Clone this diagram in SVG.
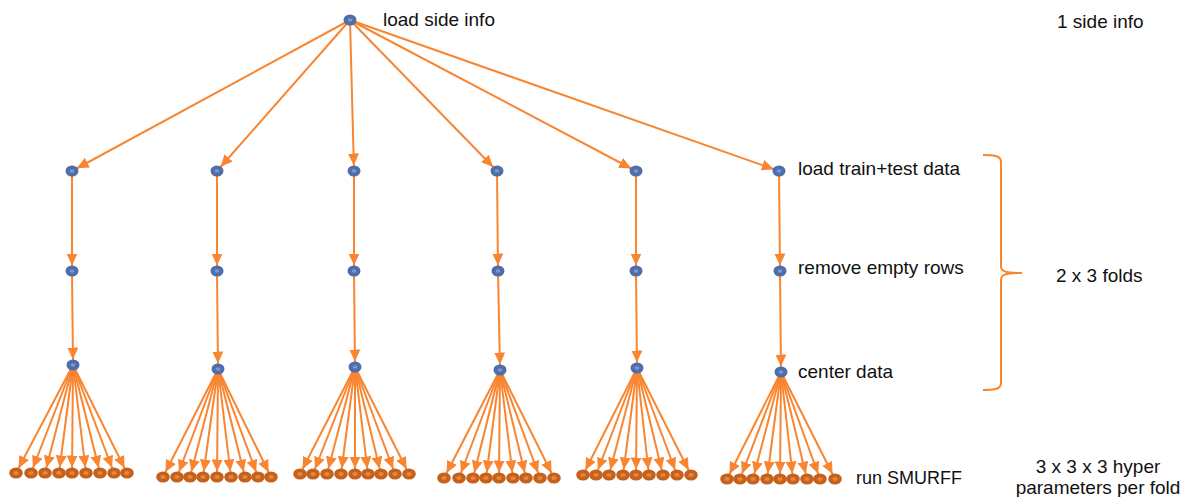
<svg xmlns="http://www.w3.org/2000/svg" xmlns:xlink="http://www.w3.org/1999/xlink" width="1184" height="497" viewBox="0 0 1184 497">
  <style>
    .edge { stroke: #F98531; stroke-width: 2; fill: none; marker-end: url(#arrow); }
    .brace { stroke: #F98531; stroke-width: 2; fill: none; }
    .label { font-family: "Liberation Sans", Arial, sans-serif; font-size: 19px; fill: #111; }
    .label.run { font-size: 18px; }
    .step-outer { fill: #4F6DA8; }
    .step-inner { fill: #7C97CE; }
    .run-outer { fill: #C4621D; }
    .run-inner { fill: #E8853A; }
  </style>
  <defs>
    <marker id="arrow" markerUnits="userSpaceOnUse" markerWidth="20" markerHeight="12" refX="17.5" refY="5.5" orient="auto">
      <path d="M0,0 L12,5.5 L0,11 z" fill="#F98531"/>
    </marker>
    <g id="stepDot">
      <ellipse class="step-outer" cx="0" cy="0" rx="6.5" ry="5.5"/>
      <ellipse class="step-inner" cx="0" cy="0" rx="2.4" ry="1.7"/>
    </g>
    <g id="runDot">
      <ellipse class="run-outer" cx="0" cy="0" rx="6.8" ry="5.6"/>
      <ellipse class="run-inner" cx="0" cy="0" rx="2.7" ry="1.9"/>
    </g>
  </defs>

  <rect width="1184" height="497" fill="#fff"/>

  <!-- connectors -->
  <g id="connectors">
    <!-- side info to each fold -->
    <line class="edge" x1="350" y1="20" x2="72" y2="171"/>
    <line class="edge" x1="350" y1="20" x2="217" y2="171"/>
    <line class="edge" x1="350" y1="20" x2="354" y2="171"/>
    <line class="edge" x1="350" y1="20" x2="497" y2="171"/>
    <line class="edge" x1="350" y1="20" x2="636" y2="171"/>
    <line class="edge" x1="350" y1="20" x2="779" y2="171"/>
    <!-- load -> remove -->
    <line class="edge" x1="72" y1="171" x2="72" y2="271"/>
    <line class="edge" x1="217" y1="171" x2="217" y2="271"/>
    <line class="edge" x1="354" y1="171" x2="354" y2="271"/>
    <line class="edge" x1="497" y1="171" x2="498" y2="271"/>
    <line class="edge" x1="636" y1="171" x2="636" y2="271"/>
    <line class="edge" x1="779" y1="171" x2="780" y2="271"/>
    <!-- remove -> center -->
    <line class="edge" x1="72" y1="271" x2="73" y2="365"/>
    <line class="edge" x1="217" y1="271" x2="218" y2="369"/>
    <line class="edge" x1="354" y1="271" x2="355" y2="367"/>
    <line class="edge" x1="498" y1="271" x2="500" y2="370"/>
    <line class="edge" x1="636" y1="271" x2="637" y2="368"/>
    <line class="edge" x1="780" y1="271" x2="781" y2="372"/>
    <!-- fold 1 runs -->
    <line class="edge" x1="73" y1="365" x2="16" y2="473"/>
    <line class="edge" x1="73" y1="365" x2="31" y2="473"/>
    <line class="edge" x1="73" y1="365" x2="45" y2="473"/>
    <line class="edge" x1="73" y1="365" x2="59" y2="473"/>
    <line class="edge" x1="73" y1="365" x2="72" y2="473"/>
    <line class="edge" x1="73" y1="365" x2="86" y2="473"/>
    <line class="edge" x1="73" y1="365" x2="100" y2="473"/>
    <line class="edge" x1="73" y1="365" x2="114" y2="473"/>
    <line class="edge" x1="73" y1="365" x2="127" y2="473"/>
    <!-- fold 2 runs -->
    <line class="edge" x1="218" y1="369" x2="163" y2="477"/>
    <line class="edge" x1="218" y1="369" x2="177" y2="477"/>
    <line class="edge" x1="218" y1="369" x2="190" y2="477"/>
    <line class="edge" x1="218" y1="369" x2="203" y2="477"/>
    <line class="edge" x1="218" y1="369" x2="217" y2="477"/>
    <line class="edge" x1="218" y1="369" x2="231" y2="477"/>
    <line class="edge" x1="218" y1="369" x2="245" y2="477"/>
    <line class="edge" x1="218" y1="369" x2="258" y2="477"/>
    <line class="edge" x1="218" y1="369" x2="271" y2="477"/>
    <!-- fold 3 runs -->
    <line class="edge" x1="355" y1="367" x2="300" y2="474"/>
    <line class="edge" x1="355" y1="367" x2="313" y2="474"/>
    <line class="edge" x1="355" y1="367" x2="327" y2="474"/>
    <line class="edge" x1="355" y1="367" x2="341" y2="474"/>
    <line class="edge" x1="355" y1="367" x2="355" y2="474"/>
    <line class="edge" x1="355" y1="367" x2="368" y2="474"/>
    <line class="edge" x1="355" y1="367" x2="381" y2="474"/>
    <line class="edge" x1="355" y1="367" x2="395" y2="474"/>
    <line class="edge" x1="355" y1="367" x2="409" y2="474"/>
    <!-- fold 4 runs -->
    <line class="edge" x1="500" y1="370" x2="444" y2="478"/>
    <line class="edge" x1="500" y1="370" x2="459" y2="478"/>
    <line class="edge" x1="500" y1="370" x2="473" y2="478"/>
    <line class="edge" x1="500" y1="370" x2="486" y2="478"/>
    <line class="edge" x1="500" y1="370" x2="499" y2="478"/>
    <line class="edge" x1="500" y1="370" x2="513" y2="478"/>
    <line class="edge" x1="500" y1="370" x2="526" y2="478"/>
    <line class="edge" x1="500" y1="370" x2="540" y2="478"/>
    <line class="edge" x1="500" y1="370" x2="554" y2="478"/>
    <!-- fold 5 runs -->
    <line class="edge" x1="637" y1="368" x2="583" y2="475"/>
    <line class="edge" x1="637" y1="368" x2="596" y2="475"/>
    <line class="edge" x1="637" y1="368" x2="609" y2="475"/>
    <line class="edge" x1="637" y1="368" x2="623" y2="475"/>
    <line class="edge" x1="637" y1="368" x2="636" y2="475"/>
    <line class="edge" x1="637" y1="368" x2="649" y2="475"/>
    <line class="edge" x1="637" y1="368" x2="663" y2="475"/>
    <line class="edge" x1="637" y1="368" x2="677" y2="475"/>
    <line class="edge" x1="637" y1="368" x2="691" y2="475"/>
    <!-- fold 6 runs -->
    <line class="edge" x1="781" y1="372" x2="727" y2="479"/>
    <line class="edge" x1="781" y1="372" x2="740" y2="479"/>
    <line class="edge" x1="781" y1="372" x2="753" y2="479"/>
    <line class="edge" x1="781" y1="372" x2="767" y2="479"/>
    <line class="edge" x1="781" y1="372" x2="780" y2="479"/>
    <line class="edge" x1="781" y1="372" x2="793" y2="479"/>
    <line class="edge" x1="781" y1="372" x2="807" y2="479"/>
    <line class="edge" x1="781" y1="372" x2="820" y2="479"/>
    <line class="edge" x1="781" y1="372" x2="835" y2="479"/>
  </g>

  <!-- root -->
  <g id="side-info"><use xlink:href="#stepDot" x="350" y="20"/></g>

  <!-- per-fold preprocessing steps -->
  <g id="load-1"><use xlink:href="#stepDot" x="72" y="171"/></g>
  <g id="load-2"><use xlink:href="#stepDot" x="217" y="171"/></g>
  <g id="load-3"><use xlink:href="#stepDot" x="354" y="171"/></g>
  <g id="load-4"><use xlink:href="#stepDot" x="497" y="171"/></g>
  <g id="load-5"><use xlink:href="#stepDot" x="636" y="171"/></g>
  <g id="load-6"><use xlink:href="#stepDot" x="779" y="171"/></g>

  <g id="remove-1"><use xlink:href="#stepDot" x="72" y="271"/></g>
  <g id="remove-2"><use xlink:href="#stepDot" x="217" y="271"/></g>
  <g id="remove-3"><use xlink:href="#stepDot" x="354" y="271"/></g>
  <g id="remove-4"><use xlink:href="#stepDot" x="498" y="271"/></g>
  <g id="remove-5"><use xlink:href="#stepDot" x="636" y="271"/></g>
  <g id="remove-6"><use xlink:href="#stepDot" x="780" y="271"/></g>

  <g id="center-1"><use xlink:href="#stepDot" x="73" y="365"/></g>
  <g id="center-2"><use xlink:href="#stepDot" x="218" y="369"/></g>
  <g id="center-3"><use xlink:href="#stepDot" x="355" y="367"/></g>
  <g id="center-4"><use xlink:href="#stepDot" x="500" y="370"/></g>
  <g id="center-5"><use xlink:href="#stepDot" x="637" y="368"/></g>
  <g id="center-6"><use xlink:href="#stepDot" x="781" y="372"/></g>

  <!-- SMURFF runs, 9 per fold -->
  <g id="run-1-1"><use xlink:href="#runDot" x="16" y="473"/></g>
  <g id="run-1-2"><use xlink:href="#runDot" x="31" y="473"/></g>
  <g id="run-1-3"><use xlink:href="#runDot" x="45" y="473"/></g>
  <g id="run-1-4"><use xlink:href="#runDot" x="59" y="473"/></g>
  <g id="run-1-5"><use xlink:href="#runDot" x="72" y="473"/></g>
  <g id="run-1-6"><use xlink:href="#runDot" x="86" y="473"/></g>
  <g id="run-1-7"><use xlink:href="#runDot" x="100" y="473"/></g>
  <g id="run-1-8"><use xlink:href="#runDot" x="114" y="473"/></g>
  <g id="run-1-9"><use xlink:href="#runDot" x="127" y="473"/></g>

  <g id="run-2-1"><use xlink:href="#runDot" x="163" y="477"/></g>
  <g id="run-2-2"><use xlink:href="#runDot" x="177" y="477"/></g>
  <g id="run-2-3"><use xlink:href="#runDot" x="190" y="477"/></g>
  <g id="run-2-4"><use xlink:href="#runDot" x="203" y="477"/></g>
  <g id="run-2-5"><use xlink:href="#runDot" x="217" y="477"/></g>
  <g id="run-2-6"><use xlink:href="#runDot" x="231" y="477"/></g>
  <g id="run-2-7"><use xlink:href="#runDot" x="245" y="477"/></g>
  <g id="run-2-8"><use xlink:href="#runDot" x="258" y="477"/></g>
  <g id="run-2-9"><use xlink:href="#runDot" x="271" y="477"/></g>

  <g id="run-3-1"><use xlink:href="#runDot" x="300" y="474"/></g>
  <g id="run-3-2"><use xlink:href="#runDot" x="313" y="474"/></g>
  <g id="run-3-3"><use xlink:href="#runDot" x="327" y="474"/></g>
  <g id="run-3-4"><use xlink:href="#runDot" x="341" y="474"/></g>
  <g id="run-3-5"><use xlink:href="#runDot" x="355" y="474"/></g>
  <g id="run-3-6"><use xlink:href="#runDot" x="368" y="474"/></g>
  <g id="run-3-7"><use xlink:href="#runDot" x="381" y="474"/></g>
  <g id="run-3-8"><use xlink:href="#runDot" x="395" y="474"/></g>
  <g id="run-3-9"><use xlink:href="#runDot" x="409" y="474"/></g>

  <g id="run-4-1"><use xlink:href="#runDot" x="444" y="478"/></g>
  <g id="run-4-2"><use xlink:href="#runDot" x="459" y="478"/></g>
  <g id="run-4-3"><use xlink:href="#runDot" x="473" y="478"/></g>
  <g id="run-4-4"><use xlink:href="#runDot" x="486" y="478"/></g>
  <g id="run-4-5"><use xlink:href="#runDot" x="499" y="478"/></g>
  <g id="run-4-6"><use xlink:href="#runDot" x="513" y="478"/></g>
  <g id="run-4-7"><use xlink:href="#runDot" x="526" y="478"/></g>
  <g id="run-4-8"><use xlink:href="#runDot" x="540" y="478"/></g>
  <g id="run-4-9"><use xlink:href="#runDot" x="554" y="478"/></g>

  <g id="run-5-1"><use xlink:href="#runDot" x="583" y="475"/></g>
  <g id="run-5-2"><use xlink:href="#runDot" x="596" y="475"/></g>
  <g id="run-5-3"><use xlink:href="#runDot" x="609" y="475"/></g>
  <g id="run-5-4"><use xlink:href="#runDot" x="623" y="475"/></g>
  <g id="run-5-5"><use xlink:href="#runDot" x="636" y="475"/></g>
  <g id="run-5-6"><use xlink:href="#runDot" x="649" y="475"/></g>
  <g id="run-5-7"><use xlink:href="#runDot" x="663" y="475"/></g>
  <g id="run-5-8"><use xlink:href="#runDot" x="677" y="475"/></g>
  <g id="run-5-9"><use xlink:href="#runDot" x="691" y="475"/></g>

  <g id="run-6-1"><use xlink:href="#runDot" x="727" y="479"/></g>
  <g id="run-6-2"><use xlink:href="#runDot" x="740" y="479"/></g>
  <g id="run-6-3"><use xlink:href="#runDot" x="753" y="479"/></g>
  <g id="run-6-4"><use xlink:href="#runDot" x="767" y="479"/></g>
  <g id="run-6-5"><use xlink:href="#runDot" x="780" y="479"/></g>
  <g id="run-6-6"><use xlink:href="#runDot" x="793" y="479"/></g>
  <g id="run-6-7"><use xlink:href="#runDot" x="807" y="479"/></g>
  <g id="run-6-8"><use xlink:href="#runDot" x="820" y="479"/></g>
  <g id="run-6-9"><use xlink:href="#runDot" x="835" y="479"/></g>

  <!-- fold bracket -->
  <g id="fold-brace">
    <path class="brace" d="M983,155 C995,155 1001,156 1001,162 L1001,266 C1001,271 1004,273 1022,273 C1004,273 1001,275 1001,280 L1001,383 C1001,389 995,390 983,390"/>
  </g>

  <!-- step labels -->
  <g id="labels">
    <text class="label" x="383" y="26">load side info</text>
    <text class="label" x="798" y="175">load train+test data</text>
    <text class="label" x="798" y="274">remove empty rows</text>
    <text class="label" x="798" y="378">center data</text>
    <text class="label run" x="856" y="484">run SMURFF</text>
    <text class="label" x="1057" y="28">1 side info</text>
    <text class="label" x="1056" y="282">2 x 3 folds</text>
    <text class="label" x="1098" y="473" text-anchor="middle">3 x 3 x 3 hyper</text>
    <text class="label" x="1098" y="494" text-anchor="middle">parameters per fold</text>
  </g>
</svg>
